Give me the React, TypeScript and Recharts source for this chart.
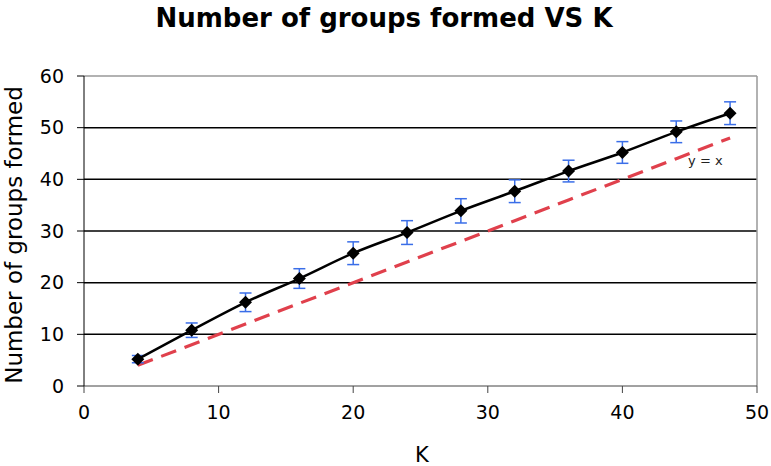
import React from "react"
import {
  ComposedChart,
  Line,
  XAxis,
  YAxis,
  CartesianGrid,
  ErrorBar,
  ReferenceLine,
  LabelList,
} from "recharts"

const kValues = [4, 8, 12, 16, 20, 24, 28, 32, 36, 40, 44, 48]
const groups = [5.2, 10.8, 16.2, 20.8, 25.7, 29.7, 33.9, 37.7, 41.6, 45.2, 49.2, 52.8]
const errors = [0.7, 1.4, 1.8, 1.9, 2.2, 2.3, 2.35, 2.2, 2.1, 2.1, 2.1, 2.2]

const xTicks = [0, 10, 20, 30, 40, 50]
const yTicks = [0, 10, 20, 30, 40, 50, 60]

const data = kValues.map((k, i) => ({
  k,
  groups: groups[i],
  err: errors[i],
  ref: k, // y = x reference
}))

const FONT = "'DejaVu Sans', Verdana, sans-serif"

const Diamond = (props: any) => {
  const { cx, cy } = props
  if (cx == null || cy == null) return null
  const r = 6.5
  return (
    <path
      d={`M${cx},${cy - r} L${cx + r},${cy} L${cx},${cy + r} L${cx - r},${cy} Z`}
      fill="#000"
    />
  )
}

const RefLabel = (props: any) => {
  const { x, y, index } = props
  if (index !== data.length - 1) return null
  return (
    <text x={x - 42} y={y + 27} fontSize={13} fontFamily={FONT} fill="#222">
      y = x
    </text>
  )
}

const YLabel = () => (
  <text
    x={22}
    y={235}
    transform="rotate(-90, 22, 235)"
    textAnchor="middle"
    fontSize={23}
    fontFamily={FONT}
    fill="#000"
  >
    Number of groups formed
  </text>
)

const XLabel = () => (
  <text x={422} y={462} textAnchor="middle" fontSize={21} fontFamily={FONT} fill="#000">
    K
  </text>
)

export default function App() {
  return (
    <div style={{ position: "absolute", left: 0, top: 0, width: 771, height: 466, background: "#fff" }}>
      <div
        style={{
          position: "absolute",
          left: 0,
          top: 3,
          width: 768,
          textAlign: "center",
          fontFamily: FONT,
          fontWeight: "bold",
          fontSize: 26,
          lineHeight: "30px",
          zIndex: 1,
        }}
      >
        Number of groups formed VS K
      </div>
      <ComposedChart
        width={771}
        height={466}
        data={data}
        margin={{ top: 76, right: 14, bottom: 0, left: 0 }}
      >
        <CartesianGrid
          vertical={false}
          stroke="#000"
          strokeWidth={1.5}
          horizontalValues={[10, 20, 30, 40, 50]}
        />
        <ReferenceLine y={60} stroke="#999" strokeWidth={1.5} />
        <ReferenceLine x={50} stroke="#999" strokeWidth={1.5} />
        <XAxis
          dataKey="k"
          type="number"
          domain={[0, 50]}
          ticks={xTicks}
          height={80}
          stroke="#444"
          tickSize={7}
          tick={{ fill: "#000", fontSize: 19, fontFamily: FONT }}
          tickMargin={13}
          label={<XLabel />}
        />
        <YAxis
          type="number"
          domain={[0, 60]}
          ticks={yTicks}
          width={84}
          stroke="#000"
          tickSize={7}
          tick={{ fill: "#000", fontSize: 19, fontFamily: FONT }}
          tickMargin={13}
          label={<YLabel />}
        />
        <Line
          dataKey="ref"
          stroke="#e0404c"
          strokeWidth={3.2}
          strokeDasharray="16 9"
          dot={false}
          isAnimationActive={false}
        >
          <LabelList dataKey="ref" content={RefLabel} />
        </Line>
        <Line
          dataKey="groups"
          type="monotone"
          stroke="#000"
          strokeWidth={2.5}
          dot={<Diamond />}
          isAnimationActive={false}
        >
          <ErrorBar dataKey="err" stroke="#3a6ee8" strokeWidth={1.5} width={6} />
        </Line>
      </ComposedChart>
    </div>
  )
}
